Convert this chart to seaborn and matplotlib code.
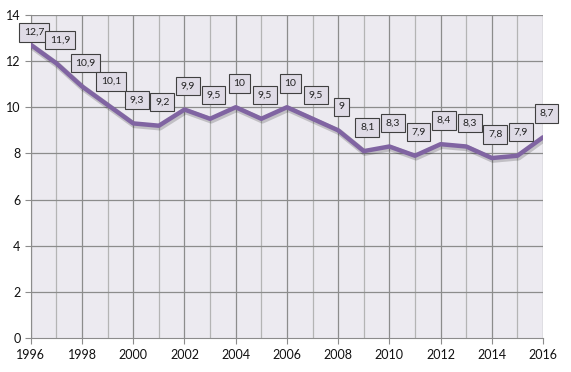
import matplotlib
matplotlib.use('Agg')
import matplotlib.pyplot as plt
import matplotlib.patheffects as pe
import pandas as pd
import seaborn as sns

# Data
years = list(range(1996, 2017))
values = [12.7, 11.9, 10.9, 10.1, 9.3, 9.2, 9.9, 9.5, 10, 9.5, 10, 9.5, 9,
          8.1, 8.3, 7.9, 8.4, 8.3, 7.8, 7.9, 8.7]
value_labels = ['12,7', '11,9', '10,9', '10,1', '9,3', '9,2', '9,9', '9,5', '10', '9,5',
                '10', '9,5', '9', '8,1', '8,3', '7,9', '8,4', '8,3', '7,8', '7,9', '8,7']

df = pd.DataFrame({'year': years, 'value': values})

sns.set_style('white')
plt.rcParams['font.family'] = ['Lato', 'DejaVu Sans']

fig = plt.figure(figsize=(5.71, 3.72), dpi=100)
ax = fig.add_axes([0.054, 0.091, 0.897, 0.869])
ax.set_facecolor('#ECEAF0')

# grid: light yearly lines, darker every 2 years / 2 units
for y in years:
    ax.axvline(y, color='#8C8C8C' if y % 2 == 0 else '#B4B4B4', lw=0.9, zorder=1)
for v in range(2, 15, 2):
    ax.axhline(v, color='#8C8C8C', lw=0.9, zorder=1)

sns.lineplot(data=df, x='year', y='value', ax=ax, color='#8064A2', lw=3.2, zorder=3,
             path_effects=[pe.SimpleLineShadow(offset=(0.8, -1.2), alpha=0.18, linewidth=4.5),
                           pe.Normal()])

for i, (x, y, t) in enumerate(zip(years, values, value_labels)):
    dy = 17 if y < 12.5 else 9  # keep the top label inside the plot
    ax.annotate(t, (x, y), xytext=(2.5, dy), textcoords='offset points', ha='center', va='center',
                fontsize=7.5, color='#222222', zorder=5, annotation_clip=False,
                bbox=dict(boxstyle='square,pad=0.45', fc='#DFDBE6', ec='#404040', lw=0.8))

ax.set_xlim(1996, 2016)
ax.set_ylim(0, 14)
ax.set_xticks(range(1996, 2017, 2))
ax.set_yticks(range(0, 15, 2))
ax.set_xlabel('')
ax.set_ylabel('')
ax.tick_params(axis='both', labelsize=9, color='#8C8C8C', length=4, direction='out',
               bottom=True, left=True, labelcolor='#111111')
for side in ['left', 'bottom']:
    ax.spines[side].set_color('#8C8C8C')
for side in ['top', 'right']:
    ax.spines[side].set_visible(False)

fig.savefig('out.png', dpi=100)
